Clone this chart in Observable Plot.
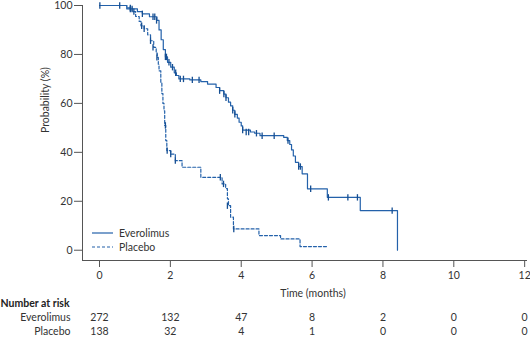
<!DOCTYPE html>
<html>
<head>
<meta charset="utf-8">
<script src="https://cdn.jsdelivr.net/npm/d3@7"></script>
<script src="https://cdn.jsdelivr.net/npm/@observablehq/plot@0.6"></script>
<style>
  html, body { margin: 0; padding: 0; background: #fff; }
  #wrap { position: relative; width: 530px; height: 339px; font-family: Lato, "Open Sans", sans-serif; }
  #legend { position: absolute; left: 92px; top: 226px; font-size: 10.5px; color: #333; line-height: 14px; }
  #legend div { display: flex; align-items: center; height: 14px; }
  #legend svg { margin-right: 6px; }
</style>
</head>
<body>
<div id="wrap"><div id="legend"></div></div>
<script>
// ---- data ----
const groups = ["Everolimus", "Placebo"];

const everolimusTime = [0, 0.77, 1.07, 1.21, 1.41, 1.62, 1.68, 1.74, 1.80, 1.86, 1.92, 2.01, 2.11, 2.17, 2.24, 2.55, 2.86, 3.05, 3.29, 3.39, 3.51, 3.57, 3.64, 3.70, 3.76, 3.82, 3.89, 3.94, 4.0, 4.04, 4.26, 4.38, 4.53, 5.20, 5.30, 5.37, 5.42, 5.47, 5.53, 5.62, 5.72, 5.87, 6.43, 7.36, 8.41];
const everolimusSurv = [100, 98.6, 97.5, 96.6, 95.4, 93.9, 90, 86, 82, 79, 76.8, 74.8, 72.5, 71.4, 70, 69.6, 68.9, 67.9, 66.5, 65.2, 63.8, 62.3, 60.5, 59, 57.2, 55.5, 54, 52.3, 50.8, 49.1, 48.3, 47.8, 46.8, 46.1, 44.8, 43.2, 41, 38.5, 35.9, 34.2, 31.2, 25.1, 21.6, 16.2, 0];

const placeboTime = [0, 0.77, 0.92, 1.02, 1.12, 1.17, 1.26, 1.36, 1.44, 1.53, 1.60, 1.63, 1.66, 1.68, 1.73, 1.76, 1.79, 1.82, 1.84, 1.87, 1.90, 2.01, 2.14, 2.33, 2.86, 3.46, 3.56, 3.61, 3.64, 3.70, 3.78, 4.50, 5.11, 5.66, 6.43];
const placeboSurv = [100, 99, 97.5, 95.5, 93.5, 91.7, 90.5, 88, 85.6, 82.9, 80.5, 78.8, 76, 73.3, 68.6, 64, 60, 57, 51, 44.8, 40.7, 39.3, 36.6, 33.9, 29.8, 27.1, 25.2, 21, 18.2, 13.5, 8.7, 6, 4.6, 1.5, 1.5];

const everolimusCensorTime = [0.01, 0.57, 0.87, 0.92, 1.21, 1.51, 1.56, 1.61, 1.86, 1.89, 1.96, 2.06, 2.15, 2.28, 2.37, 2.62, 2.81, 3.39, 3.51, 3.57, 3.76, 3.82, 4.04, 4.14, 4.21, 4.43, 4.59, 4.93, 5.32, 5.62, 5.67, 5.96, 6.46, 7.01, 7.28, 8.26];
const everolimusCensorSurv = [100, 100, 98.6, 98.6, 96.6, 95.4, 95.4, 93.9, 79, 79, 76.8, 74.8, 72.5, 70, 70, 69.6, 69.6, 65.2, 63.8, 62.3, 57.2, 55.5, 49.1, 48.3, 48.3, 47.8, 46.8, 46.8, 44.8, 34.2, 34.2, 25.1, 21.6, 21.6, 21.6, 16.2];

const placeboCensorTime = [0.87, 0.97, 1.19, 1.26, 1.44, 1.51, 1.62, 1.86, 1.91, 2.01, 2.14, 3.41, 3.50, 3.61, 3.79];
const placeboCensorSurv = [99, 97.5, 91.7, 90.5, 85.6, 82.9, 78.8, 51, 40.7, 39.3, 36.6, 29.8, 27.1, 18.2, 8.7];

const xTicks = [0, 2, 4, 6, 8, 10, 12];
const yTicks = [0, 20, 40, 60, 80, 100];
const riskTimes = [0, 2, 4, 6, 8, 10, 12];
const everolimusRisk = [272, 132, 47, 8, 2, 0, 0];
const placeboRisk = [138, 32, 4, 1, 0, 0, 0];

// ---- build tables ----
const curves = [
  ...everolimusTime.map((t, i) => ({group: "Everolimus", time: t, surv: everolimusSurv[i]})),
  ...placeboTime.map((t, i) => ({group: "Placebo", time: t, surv: placeboSurv[i]}))
];
const censors = [
  ...everolimusCensorTime.map((t, i) => ({group: "Everolimus", time: t, surv: everolimusCensorSurv[i]})),
  ...placeboCensorTime.map((t, i) => ({group: "Placebo", time: t, surv: placeboCensorSurv[i]}))
];

const blue = "#2361aa";
const tickBlue = "#164f93";
const axisColor = "#555";
const textColor = "#333";
const xDomain = [-0.48, 12.08];
const yDomain = [-4.2, 100];

const vbar = {
  draw(context, size) {
    const h = Math.sqrt(size / Math.PI);
    context.moveTo(0, -h);
    context.lineTo(0, h);
  }
};

const chart = Plot.plot({
  width: 530,
  height: 339,
  marginLeft: 82,
  marginRight: 3,
  marginTop: 5,
  marginBottom: 79,
  style: {fontFamily: "Lato, 'Open Sans', sans-serif", fontSize: "10.5px", color: textColor, background: "#fff", overflow: "visible"},
  x: {domain: xDomain},
  y: {domain: yDomain},
  marks: [
    Plot.ruleX([xDomain[0]], {stroke: axisColor, strokeWidth: 1}),
    Plot.ruleY([yDomain[0]], {stroke: axisColor, strokeWidth: 1}),
    Plot.axisY({ticks: yTicks, tickSize: 8, tickPadding: 2, label: null, stroke: axisColor, fill: textColor}),
    Plot.axisX({ticks: xTicks, tickSize: 7, tickPadding: 4, label: null, stroke: axisColor, fill: textColor}),
    Plot.text(["Probability (%)"], {frameAnchor: "left", rotate: -90, dx: -37, fill: textColor}),
    Plot.text(["Time (months)"], {frameAnchor: "bottom", dx: 8, dy: 36, fill: textColor}),
    Plot.line(curves.filter(d => d.group === "Everolimus"), {x: "time", y: "surv", curve: "step-after", stroke: blue, strokeWidth: 1.2}),
    Plot.line(curves.filter(d => d.group === "Placebo"), {x: "time", y: "surv", curve: "step-after", stroke: blue, strokeWidth: 1.2, strokeDasharray: "3,2"}),
    Plot.dot(censors, {x: "time", y: "surv", symbol: vbar, r: 3.2, stroke: tickBlue, strokeWidth: 1.3, fill: "none"}),
    // number at risk table
    Plot.text(["Number at risk"], {frameAnchor: "bottom-left", textAnchor: "start", dx: -82, dy: 46, fontWeight: "bold", fill: "#222"}),
    Plot.text([groups[0]], {frameAnchor: "bottom-left", textAnchor: "end", dx: -12, dy: 60, fill: textColor}),
    Plot.text([groups[1]], {frameAnchor: "bottom-left", textAnchor: "end", dx: -12, dy: 74, fill: textColor}),
    Plot.text(riskTimes, {x: d => d, text: (d, i) => String(everolimusRisk[i]), frameAnchor: "bottom", dy: 60, fill: textColor}),
    Plot.text(riskTimes, {x: d => d, text: (d, i) => String(placeboRisk[i]), frameAnchor: "bottom", dy: 74, fill: textColor})
  ]
});

document.getElementById("wrap").prepend(chart);

// legend (inside plot area, lower left)
const legend = document.getElementById("legend");
const dashes = ["none", "3,2"];
groups.forEach((g, i) => {
  const row = document.createElement("div");
  row.innerHTML = `<svg width="21" height="6"><line x1="0" x2="21" y1="3" y2="3" stroke="${blue}" stroke-width="1.2" stroke-dasharray="${dashes[i]}"/></svg><span>${g}</span>`;
  legend.appendChild(row);
});
</script>
</body>
</html>
